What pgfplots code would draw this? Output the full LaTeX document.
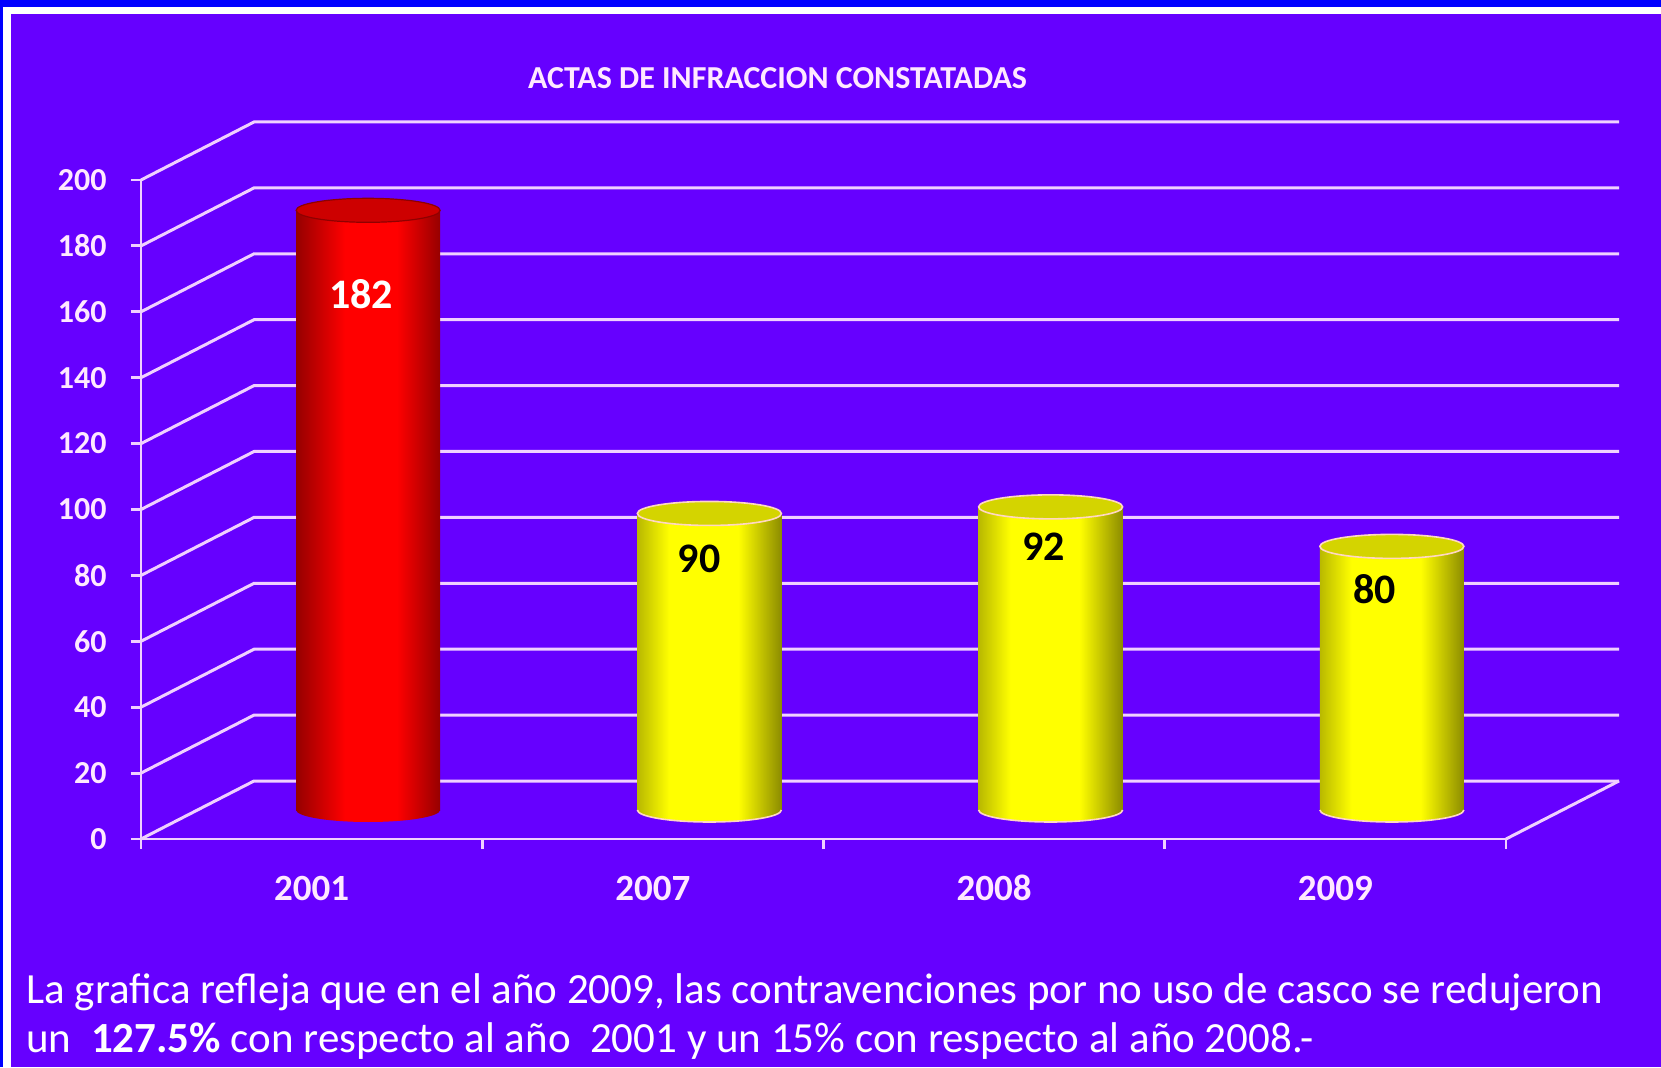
\documentclass[border=0pt]{standalone}
\usepackage{pgfplots}
\pgfplotsset{compat=1.18}
\usepackage{fontspec}
\setmainfont{Carlito}
\definecolor{bgpurple}{RGB}{102,0,255}
\definecolor{frameblue}{RGB}{0,0,255}
\definecolor{gridc}{RGB}{240,208,255}
\definecolor{txt}{RGB}{255,232,255}
\definecolor{rdark}{RGB}{150,0,0}
\definecolor{rmid}{RGB}{255,0,0}
\definecolor{rtop}{RGB}{205,0,0}
\definecolor{ydarkL}{RGB}{185,185,0}
\definecolor{ymid}{RGB}{255,255,0}
\definecolor{ydarkR}{RGB}{140,140,0}
\definecolor{ytop}{RGB}{212,212,0}
\definecolor{rim}{RGB}{255,215,195}
\pgfdeclarehorizontalshading{redcyl}{100bp}{color(0bp)=(rdark); color(25bp)=(rdark); color(42bp)=(rmid); color(60bp)=(rmid); color(75bp)=(rdark); color(100bp)=(rdark)}
\pgfdeclarehorizontalshading{yelcyl}{100bp}{color(0bp)=(ydarkL); color(25bp)=(ydarkL); color(36bp)=(ymid); color(60bp)=(ymid); color(75bp)=(ydarkR); color(100bp)=(ydarkR)}
% lower half of the cylinder base
\pgfdeclareplotmark{cylbotR}{%
  \pgfpathmoveto{\pgfqpoint{-36pt}{0pt}}%
  \pgfpatharc{180}{360}{36pt and 6pt}\pgfpathclose
  \pgfshadepath{redcyl}{0}\pgfusepath{discard}}
\pgfdeclareplotmark{cylbotY}{%
  \pgfpathmoveto{\pgfqpoint{-36pt}{0pt}}%
  \pgfpatharc{180}{360}{36pt and 6pt}\pgfpathclose
  \pgfshadepath{yelcyl}{0}\pgfusepath{discard}%
  \pgfpathmoveto{\pgfqpoint{-36pt}{0pt}}%
  \pgfpatharc{180}{360}{36pt and 6pt}%
  \pgfusepathqstroke}
\pgfdeclareplotmark{cyltop}{%
  \pgfpathellipse{\pgfpointorigin}{\pgfqpoint{36pt}{0pt}}{\pgfqpoint{0pt}{6pt}}%
  \pgfusepathqfillstroke}
\begin{document}
\begin{tikzpicture}
% background and frame
\fill[frameblue] (0,0) rectangle (830.5pt,533.5pt);
\fill[white] (1.5pt,0) rectangle (830.5pt,530pt);
\fill[bgpurple] (5.5pt,0) rectangle (830.5pt,526.5pt);
% title
\node[text=txt, font=\bfseries\fontsize{16}{18}\selectfont] at (388.75pt,494.5pt) {ACTAS DE INFRACCION CONSTATADAS};
\begin{axis}[
  at={(70.5pt,114pt)}, anchor=south west,
  scale only axis, width=682.5pt, height=329.5pt,
  xmin=0, xmax=4, ymin=0, ymax=200,
  clip=false,
  axis x line*=bottom, axis y line*=left,
  axis line style={gridc, line width=1.4pt},
  tick style={gridc, line width=1.4pt},
  tick align=outside,
  ytick={0,20,...,200},
  xtick={0,1,2,3,4}, xticklabels={},
  major tick length=5pt,
  extra x ticks={0.5,1.5,2.5,3.5},
  extra x tick labels={2001,2007,2008,2009},
  extra x tick style={major tick length=0pt,
     xticklabel style={anchor=center, yshift=-24.5pt}},
  /pgf/number format/assume math mode=true,
  yticklabel style={text=txt, font=\bfseries\fontsize{16}{16}\selectfont, anchor=east, inner sep=0pt, xshift=-12pt},
  xticklabel style={text=txt, font=\bfseries\fontsize{18.5}{18.5}\selectfont},
]
% back wall grid and side diagonals
\pgfplotsinvokeforeach{0,20,...,200}{
  \draw[gridc, line width=1.5pt] (axis cs:0,#1) -- ++(56.5pt,29pt) -- ([shift={(56.5pt,29pt)}]axis cs:4,#1);
}
\draw[gridc, line width=1.5pt] (axis cs:4,0) -- ++(56.5pt,29pt);
% 2001 (red)
\addplot[only marks, mark=cylbotR, xshift=28.25pt, yshift=14.5pt] coordinates {(0.5,0)};
\addplot[ybar, bar width=72pt, draw=none, shade, shading=redcyl, xshift=28.25pt, yshift=14.5pt] coordinates {(0.5,182)};
\addplot[only marks, mark=cyltop, mark options={fill=rtop, draw=rtop!70!black, line width=0.6pt}, xshift=28.25pt, yshift=14.5pt] coordinates {(0.5,182)};
% 2007, 2008, 2009 (yellow)
\addplot[only marks, mark=cylbotY, mark options={draw=rim, line width=0.8pt}, xshift=28.25pt, yshift=14.5pt] coordinates {(1.5,0) (2.5,0) (3.5,0)};
\addplot[ybar, bar width=72pt, draw=none, shade, shading=yelcyl, xshift=28.25pt, yshift=14.5pt] coordinates {(1.5,90)};
\addplot[ybar, bar width=72pt, draw=none, shade, shading=yelcyl, xshift=28.25pt, yshift=14.5pt] coordinates {(2.5,92)};
\addplot[ybar, bar width=72pt, draw=none, shade, shading=yelcyl, xshift=28.25pt, yshift=14.5pt] coordinates {(3.5,80)};
\addplot[only marks, mark=cyltop, mark options={fill=ytop, draw=rim, line width=0.8pt}, xshift=28.25pt, yshift=14.5pt] coordinates {(1.5,90) (2.5,92) (3.5,80)};
% value labels
\begin{scope}[xshift=28.25pt, yshift=14.5pt, font=\bfseries\fontsize{21}{21}\selectfont]
\node[text=white] at (axis cs:0.48,156.6) {182};
\node[text=black] at (axis cs:1.47,76.2) {90};
\node[text=black] at (axis cs:2.48,79.9) {92};
\node[text=black] at (axis cs:3.45,67.1) {80};
\end{scope}
\end{axis}
% caption
\node[anchor=base west, text=white, font=\fontsize{21.5}{26}\selectfont, inner sep=0pt] at (13pt,32pt) {La grafica refleja que en el año 2009, las contravenciones por no uso de casco se redujeron};
\node[anchor=base west, text=white, font=\fontsize{21.5}{26}\selectfont, inner sep=0pt] at (13pt,7.5pt) {un\ \ \textbf{127.5\%} con respecto al año\ \ 2001 y un 15\% con respecto al año 2008.-};
\pgfresetboundingbox
\useasboundingbox (0,0) rectangle (830.5pt,533.5pt);
\end{tikzpicture}
\end{document}
